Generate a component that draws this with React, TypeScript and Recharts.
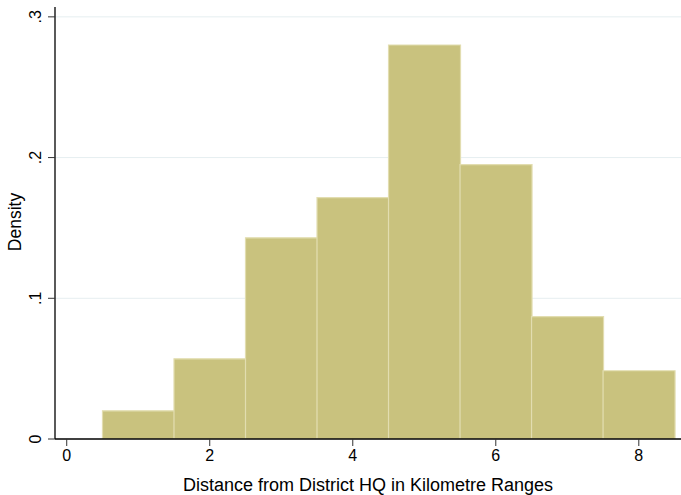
import React from "react";
import { BarChart, Bar, XAxis, YAxis, CartesianGrid } from "recharts";

// Histogram bins (1 km wide, centred on 1..8) and their densities
const binCenters = [1, 2, 3, 4, 5, 6, 7, 8];
const densities = [0.02, 0.057, 0.143, 0.1715, 0.28, 0.195, 0.087, 0.0485];
const xTicks = [0, 2, 4, 6, 8];
const yTicks = [0, 0.1, 0.2, 0.3];
const yTickLabels = ["0", ".1", ".2", ".3"];

const data = binCenters.map((c, i) => ({ mid: c, density: densities[i] }));

const FONT = "'Liberation Sans', Arial, sans-serif";

const YTick = (props: any) => {
  const { x, y, payload } = props;
  const idx = yTicks.indexOf(payload.value);
  return (
    <text
      x={x}
      y={y}
      transform={`rotate(-90, ${x}, ${y})`}
      textAnchor="middle"
      dy={-5}
      fontSize={16}
      fontFamily={FONT}
      fill="#000"
    >
      {idx >= 0 ? yTickLabels[idx] : payload.value}
    </text>
  );
};

const YTitle = (props: any) => {
  const vb = props.viewBox || {};
  const cx = 21;
  const cy = (vb.y ?? 0) + (vb.height ?? 0) / 2 - 1;
  return (
    <text
      x={cx}
      y={cy}
      transform={`rotate(-90, ${cx}, ${cy})`}
      textAnchor="middle"
      fontSize={17.5}
      fontFamily={FONT}
      fill="#000"
    >
      Density
    </text>
  );
};

const XTitle = (props: any) => {
  const vb = props.viewBox || {};
  const cx = (vb.x ?? 0) + (vb.width ?? 0) / 2;
  return (
    <text
      x={cx}
      y={491}
      textAnchor="middle"
      fontSize={18}
      fontFamily={FONT}
      fill="#000"
    >
      Distance from District HQ in Kilometre Ranges
    </text>
  );
};

export default function App() {
  return (
    <div style={{ position: "absolute", left: 0, top: 0, background: "#fff" }}>
      <BarChart
        width={681}
        height={495}
        data={data}
        margin={{ top: 7, right: 0, bottom: 0, left: 0 }}
        barCategoryGap={0}
        barGap={0}
      >
        <CartesianGrid
          vertical={false}
          stroke="#e6eef0"
          strokeWidth={1}
          horizontalValues={[0.1, 0.2, 0.3]}
        />
        <XAxis
          dataKey="mid"
          type="number"
          domain={[-0.164, 8.59]}
          ticks={xTicks}
          allowDataOverflow
          height={56}
          axisLine={{ stroke: "#000", strokeWidth: 1.3 }}
          tickLine={{ stroke: "#333" }}
          tickSize={7}
          tick={{ fill: "#000", fontSize: 16, fontFamily: FONT }}
          tickMargin={4}
          label={<XTitle />}
        />
        <YAxis
          type="number"
          domain={[0, 0.307]}
          ticks={yTicks}
          allowDataOverflow
          width={55}
          axisLine={{ stroke: "#000", strokeWidth: 1.3 }}
          tickLine={{ stroke: "#333" }}
          tickSize={7}
          tick={<YTick />}
          label={<YTitle />}
        />
        <Bar
          dataKey="density"
          fill="#c9c27e"
          stroke="#e2ddb0"
          strokeWidth={1.2}
          isAnimationActive={false}
        />
      </BarChart>
    </div>
  );
}
